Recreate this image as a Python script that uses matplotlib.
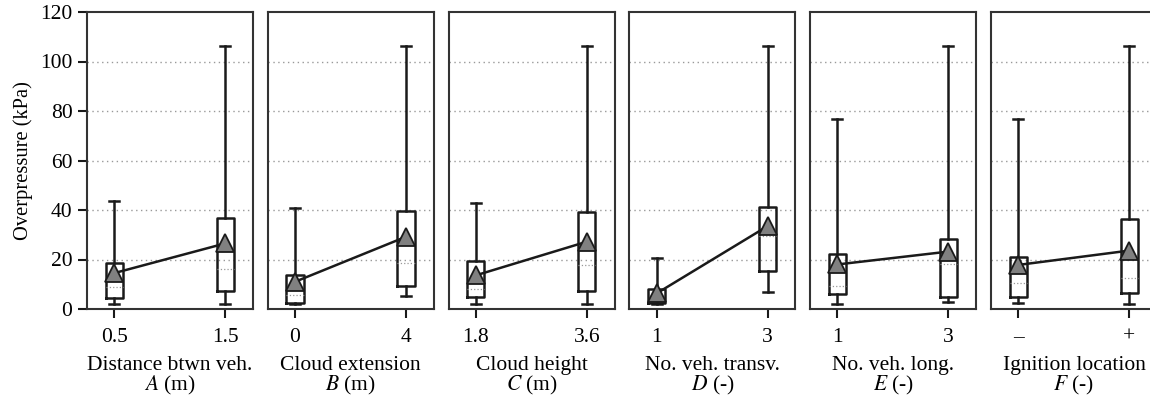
import matplotlib
matplotlib.use("Agg")
import matplotlib.pyplot as plt

plt.rcParams['font.family'] = ['Liberation Serif', 'DejaVu Serif']
plt.rcParams['mathtext.fontset'] = 'stix'

# factores y niveles
factor_labels = ["Distance btwn veh.\n$A$ (m)", "Cloud extension\n$B$ (m)", "Cloud height\n$C$ (m)",
                 "No. veh. transv.\n$D$ (-)", "No. veh. long.\n$E$ (-)", "Ignition location\n$F$ (-)"]
level_labels = [["0.5", "1.5"], ["0", "4"], ["1.8", "3.6"], ["1", "3"], ["1", "3"], ["\u2013", "+"]]

# estadisticos por nivel (kPa): min, q1, mediana, q3, max, media
mins = [[2.0, 2.0], [2.0, 5.3], [2.0, 2.0], [2.0, 7.0], [2.0, 2.7], [2.6, 2.0]]
q1s = [[4.6, 7.3], [2.6, 9.3], [5.0, 7.4], [2.3, 15.4], [5.9, 5.0], [5.0, 6.6]]
medians = [[9.0, 16.0], [5.8, 18.7], [8.2, 17.9], [3.6, 29.5], [9.3, 18.2], [10.6, 12.7]]
q3s = [[18.7, 36.6], [13.6, 39.5], [19.3, 39.2], [8.2, 41.2], [22.2, 28.2], [20.9, 36.2]]
maxs = [[43.6, 106.3], [40.7, 106.3], [43.0, 106.3], [20.5, 106.3], [76.9, 106.3], [76.9, 106.3]]
means = [[14.5, 26.5], [11.0, 29.2], [13.6, 27.2], [6.3, 33.5], [18.0, 23.2], [17.8, 23.6]]

fig = plt.figure(figsize=(11.5, 4.04), dpi=100)
W, H = 1150, 404
dark = '#1a1a1a'

for i in range(6):
    left = 87 + i * 180.8
    ax = fig.add_axes([left / W, 1 - 309 / H, 166 / W, 297 / H])
    stats = []
    for j in range(2):
        stats.append(dict(whislo=mins[i][j], q1=q1s[i][j], med=medians[i][j],
                          q3=q3s[i][j], whishi=maxs[i][j], fliers=[]))
    ax.bxp(stats, positions=[0, 1], widths=0.155, capwidths=0.09, showfliers=False,
           boxprops=dict(color=dark, linewidth=1.8),
           whiskerprops=dict(color=dark, linewidth=1.8),
           capprops=dict(color=dark, linewidth=1.8),
           medianprops=dict(color='#999999', linewidth=0.9, linestyle=':'))
    ax.plot([0, 1], means[i], color=dark, linewidth=1.8, marker='^', markersize=13,
            markerfacecolor='#808080', markeredgecolor=dark, markeredgewidth=1.3, zorder=5)

    ax.set_xlim(-0.245, 1.25)
    ax.set_ylim(0, 120)
    ax.set_yticks(range(0, 121, 20))
    for y in range(20, 101, 20):
        ax.axhline(y, color='#999999', linestyle=(0, (1, 2.5)), linewidth=1.0, zorder=0)
    ax.set_xticks([0, 1])
    ax.set_xticklabels(level_labels[i], fontsize=15.5)
    ax.set_xlabel(factor_labels[i], fontsize=15.5, labelpad=7, linespacing=0.9)
    ax.tick_params(axis='x', length=6.5, width=1.5, color=dark, pad=7)
    for sp in ax.spines.values():
        sp.set_linewidth(1.5)
        sp.set_color('#333333')
    if i == 0:
        ax.tick_params(axis='y', length=6.5, width=1.5, color=dark, labelsize=15.5, pad=4)
        ax.set_ylabel("Overpressure (kPa)", fontsize=14.8, labelpad=5)
    else:
        ax.set_yticks([])

fig.savefig("out.png", dpi=100)
